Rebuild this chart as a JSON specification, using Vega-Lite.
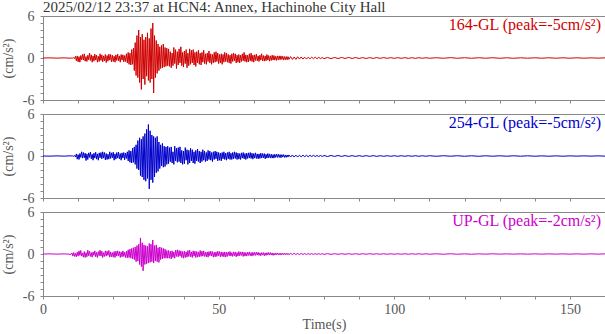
{
  "$schema": "https://vega.github.io/schema/vega-lite/v6.json",
  "padding": {"left": 0, "top": -1, "right": 0, "bottom": 0},
  "background": "white",
  "config": {
    "font": "Liberation Serif",
    "view": {"stroke": "#888", "strokeWidth": 1},
    "axis": {"labelFont": "Liberation Serif", "labelFontSize": 14, "labelColor": "#555", "titleFont": "Liberation Serif", "titleFontSize": 14, "titleFontWeight": "normal", "titleColor": "#555", "domainColor": "#888", "tickColor": "#888", "tickSize": 3, "grid": false, "labelFlush": false},
    "title": {"font": "Liberation Serif", "fontSize": 15, "fontWeight": "normal", "color": "#333"}
  },
  "datasets": {
    "w": [
      {"t":0,"n":0,"e":0,"u":0},
      {"t":2,"n":0.02,"e":-0.02,"u":0.02},
      {"t":4,"n":-0.02,"e":0.02,"u":-0.02},
      {"t":6,"n":0.02,"e":-0.02,"u":0.02},
      {"t":8,"n":-0.03,"e":0.03,"u":-0.05},
      {"t":8.25,"n":0.04,"e":-0.03,"u":0.15},
      {"t":8.5,"n":-0.05,"e":0.04,"u":-0.3},
      {"t":8.75,"n":0.06,"e":-0.05,"u":0.2},
      {"t":9,"n":-0.1,"e":0.08,"u":-0.35},
      {"t":9.25,"n":0.25,"e":-0.15,"u":0.1},
      {"t":9.5,"n":-0.4,"e":0.3,"u":-0.4},
      {"t":9.75,"n":0.3,"e":-0.45,"u":0.25},
      {"t":10,"n":-0.55,"e":0.2,"u":-0.3},
      {"t":10.25,"n":0.2,"e":-0.5,"u":0.45},
      {"t":10.5,"n":-0.6,"e":0.35,"u":-0.2},
      {"t":10.75,"n":0.35,"e":-0.2,"u":0.5},
      {"t":11,"n":-0.25,"e":0.6,"u":-0.3},
      {"t":11.25,"n":0.5,"e":-0.3,"u":0.15},
      {"t":11.5,"n":-0.3,"e":0.5,"u":-0.45},
      {"t":11.75,"n":0.6,"e":-0.25,"u":0.35},
      {"t":12,"n":-0.45,"e":0.4,"u":-0.5},
      {"t":12.25,"n":0.2,"e":-0.65,"u":0.2},
      {"t":12.5,"n":-0.5,"e":0.3,"u":-0.4},
      {"t":12.75,"n":0.4,"e":-0.5,"u":0.55},
      {"t":13,"n":-0.25,"e":0.45,"u":-0.25},
      {"t":13.25,"n":0.7,"e":-0.2,"u":0.4},
      {"t":13.5,"n":-0.35,"e":0.55,"u":-0.35},
      {"t":13.75,"n":0.45,"e":-0.4,"u":0.2},
      {"t":14,"n":-0.6,"e":0.25,"u":-0.45},
      {"t":14.25,"n":0.3,"e":-0.6,"u":0.3},
      {"t":14.5,"n":-0.45,"e":0.4,"u":-0.2},
      {"t":14.75,"n":0.55,"e":-0.3,"u":0.45},
      {"t":15,"n":-0.3,"e":0.55,"u":-0.4},
      {"t":15.25,"n":0.4,"e":-0.45,"u":0.25},
      {"t":15.5,"n":-0.6,"e":0.3,"u":-0.5},
      {"t":15.75,"n":0.25,"e":-0.6,"u":0.35},
      {"t":16,"n":-0.5,"e":0.45,"u":-0.25},
      {"t":16.25,"n":0.6,"e":-0.25,"u":0.55},
      {"t":16.5,"n":-0.35,"e":0.5,"u":-0.3},
      {"t":16.75,"n":0.45,"e":-0.4,"u":0.4},
      {"t":17,"n":-0.55,"e":0.6,"u":-0.5},
      {"t":17.25,"n":0.3,"e":-0.3,"u":0.2},
      {"t":17.5,"n":-0.4,"e":0.5,"u":-0.35},
      {"t":17.75,"n":0.5,"e":-0.55,"u":0.45},
      {"t":18,"n":-0.65,"e":0.35,"u":-0.3},
      {"t":18.25,"n":0.35,"e":-0.5,"u":0.4},
      {"t":18.5,"n":-0.45,"e":0.25,"u":-0.2},
      {"t":18.75,"n":0.55,"e":-0.45,"u":0.5},
      {"t":19,"n":-0.3,"e":0.6,"u":-0.45},
      {"t":19.25,"n":0.5,"e":-0.35,"u":0.3},
      {"t":19.5,"n":-0.55,"e":0.45,"u":-0.4},
      {"t":19.75,"n":0.4,"e":-0.25,"u":0.2},
      {"t":20,"n":-0.5,"e":0.55,"u":-0.45},
      {"t":20.25,"n":0.25,"e":-0.6,"u":0.35},
      {"t":20.5,"n":-0.6,"e":0.3,"u":-0.5},
      {"t":20.75,"n":0.45,"e":-0.45,"u":0.4},
      {"t":21,"n":-0.35,"e":0.5,"u":-0.3},
      {"t":21.25,"n":0.55,"e":-0.3,"u":0.45},
      {"t":21.5,"n":-0.4,"e":0.55,"u":-0.25},
      {"t":21.75,"n":0.3,"e":-0.4,"u":0.35},
      {"t":22,"n":-0.6,"e":0.35,"u":-0.5},
      {"t":22.25,"n":0.5,"e":-0.6,"u":0.3},
      {"t":22.5,"n":-0.3,"e":0.45,"u":-0.4},
      {"t":22.75,"n":0.45,"e":-0.3,"u":0.45},
      {"t":23,"n":-0.55,"e":0.5,"u":-0.35},
      {"t":23.25,"n":0.35,"e":-0.55,"u":0.25},
      {"t":23.5,"n":-0.5,"e":0.4,"u":-0.5},
      {"t":23.75,"n":0.6,"e":-0.35,"u":0.4},
      {"t":24,"n":-0.7,"e":0.6,"u":-0.55},
      {"t":24.25,"n":0.8,"e":-0.7,"u":0.6},
      {"t":24.5,"n":-0.9,"e":0.8,"u":-0.5},
      {"t":24.75,"n":0.7,"e":-0.9,"u":0.7},
      {"t":25,"n":-1.0,"e":0.7,"u":-0.6},
      {"t":25.25,"n":1.2,"e":-1.0,"u":0.8},
      {"t":25.5,"n":-0.9,"e":1.1,"u":-0.7},
      {"t":25.75,"n":1.4,"e":-0.9,"u":0.9},
      {"t":26,"n":-1.8,"e":1.3,"u":-0.8},
      {"t":26.25,"n":2.2,"e":-1.2,"u":1.0},
      {"t":26.5,"n":-2.5,"e":1.6,"u":-1.1},
      {"t":26.75,"n":3.2,"e":-1.8,"u":1.2},
      {"t":27,"n":-2.8,"e":2.2,"u":-1.0},
      {"t":27.25,"n":4.0,"e":-2.0,"u":1.4},
      {"t":27.5,"n":-3.5,"e":2.6,"u":-1.5},
      {"t":27.75,"n":3.0,"e":-2.8,"u":2.3},
      {"t":28,"n":-4.5,"e":2.4,"u":-1.8},
      {"t":28.25,"n":3.4,"e":-3.0,"u":1.6},
      {"t":28.5,"n":-3.0,"e":2.8,"u":-2.4},
      {"t":28.75,"n":2.6,"e":-3.4,"u":1.3},
      {"t":29,"n":-3.8,"e":3.2,"u":-1.5},
      {"t":29.25,"n":3.0,"e":-3.6,"u":1.2},
      {"t":29.5,"n":-2.6,"e":3.8,"u":-1.4},
      {"t":29.75,"n":3.6,"e":-3.2,"u":1.1},
      {"t":30,"n":-3.2,"e":4.5,"u":-1.3},
      {"t":30.25,"n":2.8,"e":-4.7,"u":1.5},
      {"t":30.5,"n":-3.5,"e":3.6,"u":-1.2},
      {"t":30.75,"n":4.2,"e":-3.4,"u":1.4},
      {"t":31,"n":-3.0,"e":3.0,"u":-1.1},
      {"t":31.25,"n":5.0,"e":-3.8,"u":2.0},
      {"t":31.5,"n":-5.0,"e":2.8,"u":-1.3},
      {"t":31.75,"n":3.2,"e":-3.0,"u":1.2},
      {"t":32,"n":-2.8,"e":2.6,"u":-1.0},
      {"t":32.25,"n":2.5,"e":-2.4,"u":1.3},
      {"t":32.5,"n":-2.2,"e":2.8,"u":-1.1},
      {"t":32.75,"n":2.0,"e":-2.2,"u":0.9},
      {"t":33,"n":-1.8,"e":2.0,"u":-1.2},
      {"t":33.25,"n":1.6,"e":-1.8,"u":1.0},
      {"t":33.5,"n":-1.5,"e":1.6,"u":-0.8},
      {"t":33.75,"n":1.8,"e":-1.4,"u":0.9},
      {"t":34,"n":-1.4,"e":1.8,"u":-0.7},
      {"t":34.25,"n":2.0,"e":-1.6,"u":0.8},
      {"t":34.5,"n":-1.3,"e":1.4,"u":-0.6},
      {"t":34.75,"n":1.5,"e":-1.5,"u":0.7},
      {"t":35,"n":-1.2,"e":1.3,"u":-0.6},
      {"t":35.25,"n":1.4,"e":-1.2,"u":0.5},
      {"t":35.5,"n":-1.1,"e":1.4,"u":-0.6},
      {"t":35.75,"n":1.3,"e":-1.1,"u":0.5},
      {"t":36,"n":-1.2,"e":1.2,"u":-0.6},
      {"t":36.25,"n":0.9,"e":-0.8,"u":0.4},
      {"t":36.5,"n":-1.4,"e":1.3,"u":-0.7},
      {"t":36.75,"n":0.7,"e":-1.0,"u":0.45},
      {"t":37,"n":-1.1,"e":0.6,"u":-0.5},
      {"t":37.25,"n":1.5,"e":-1.2,"u":0.3},
      {"t":37.5,"n":-0.8,"e":1.4,"u":-0.6},
      {"t":37.75,"n":1.2,"e":-0.7,"u":0.55},
      {"t":38,"n":-1.5,"e":1.1,"u":-0.35},
      {"t":38.25,"n":0.9,"e":-0.9,"u":0.6},
      {"t":38.5,"n":-1.0,"e":1.2,"u":-0.4},
      {"t":38.75,"n":1.3,"e":-0.8,"u":0.5},
      {"t":39,"n":-0.7,"e":1.3,"u":-0.3},
      {"t":39.25,"n":1.6,"e":-1.0,"u":0.45},
      {"t":39.5,"n":-1.1,"e":0.8,"u":-0.5},
      {"t":39.75,"n":0.8,"e":-1.2,"u":0.35},
      {"t":40,"n":-1.3,"e":0.7,"u":-0.6},
      {"t":40.25,"n":1.0,"e":-1.1,"u":0.4},
      {"t":40.5,"n":-0.8,"e":1.2,"u":-0.5},
      {"t":40.75,"n":1.2,"e":-0.6,"u":0.3},
      {"t":41,"n":-1.4,"e":0.9,"u":-0.45},
      {"t":41.25,"n":0.7,"e":-1.2,"u":0.5},
      {"t":41.5,"n":-1.1,"e":0.8,"u":-0.35},
      {"t":41.75,"n":1.3,"e":-1.0,"u":0.55},
      {"t":42,"n":-0.9,"e":1.1,"u":-0.4},
      {"t":42.25,"n":1.1,"e":-0.7,"u":0.3},
      {"t":42.5,"n":-0.7,"e":0.9,"u":-0.5},
      {"t":42.75,"n":1.2,"e":-1.0,"u":0.45},
      {"t":43,"n":-1.0,"e":0.6,"u":-0.3},
      {"t":43.25,"n":0.8,"e":-1.1,"u":0.4},
      {"t":43.5,"n":-1.2,"e":0.8,"u":-0.5},
      {"t":43.75,"n":0.9,"e":-0.7,"u":0.35},
      {"t":44,"n":-0.7,"e":1.0,"u":-0.45},
      {"t":44.25,"n":1.1,"e":-0.8,"u":0.3},
      {"t":44.5,"n":-0.9,"e":0.7,"u":-0.4},
      {"t":44.75,"n":0.7,"e":-1.0,"u":0.5},
      {"t":45,"n":-1.0,"e":0.6,"u":-0.35},
      {"t":45.25,"n":0.8,"e":-0.8,"u":0.4},
      {"t":45.5,"n":-0.6,"e":0.9,"u":-0.3},
      {"t":45.75,"n":1.1,"e":-0.6,"u":0.45},
      {"t":46,"n":-0.8,"e":0.7,"u":-0.35},
      {"t":46.25,"n":0.6,"e":-0.8,"u":0.25},
      {"t":46.5,"n":-0.9,"e":0.5,"u":-0.4},
      {"t":46.75,"n":0.7,"e":-0.7,"u":0.3},
      {"t":47,"n":-0.5,"e":0.8,"u":-0.45},
      {"t":47.25,"n":1.0,"e":-0.5,"u":0.35},
      {"t":47.5,"n":-0.7,"e":0.7,"u":-0.25},
      {"t":47.75,"n":0.6,"e":-0.6,"u":0.4},
      {"t":48,"n":-0.9,"e":0.5,"u":-0.3},
      {"t":48.25,"n":0.5,"e":-0.8,"u":0.35},
      {"t":48.5,"n":-0.7,"e":0.6,"u":-0.45},
      {"t":48.75,"n":0.8,"e":-0.5,"u":0.25},
      {"t":49,"n":-0.6,"e":0.7,"u":-0.4},
      {"t":49.25,"n":0.9,"e":-0.4,"u":0.3},
      {"t":49.5,"n":-0.5,"e":0.6,"u":-0.35},
      {"t":49.75,"n":0.7,"e":-0.7,"u":0.4},
      {"t":50,"n":-0.8,"e":0.5,"u":-0.25},
      {"t":50.25,"n":0.5,"e":-0.6,"u":0.35},
      {"t":50.5,"n":-0.7,"e":0.4,"u":-0.4},
      {"t":50.75,"n":0.6,"e":-0.7,"u":0.3},
      {"t":51,"n":-0.9,"e":0.5,"u":-0.35},
      {"t":51.25,"n":0.5,"e":-0.4,"u":0.25},
      {"t":51.5,"n":-0.6,"e":0.6,"u":-0.4},
      {"t":51.75,"n":0.8,"e":-0.5,"u":0.3},
      {"t":52,"n":-0.5,"e":0.4,"u":-0.45},
      {"t":52.25,"n":0.7,"e":-0.6,"u":0.25},
      {"t":52.5,"n":-0.6,"e":0.5,"u":-0.35},
      {"t":52.75,"n":0.5,"e":-0.4,"u":0.3},
      {"t":53,"n":-0.7,"e":0.6,"u":-0.25},
      {"t":53.25,"n":0.4,"e":-0.5,"u":0.35},
      {"t":53.5,"n":-0.8,"e":0.4,"u":-0.3},
      {"t":53.75,"n":0.6,"e":-0.5,"u":0.2},
      {"t":54,"n":-0.5,"e":0.5,"u":-0.35},
      {"t":54.25,"n":0.7,"e":-0.4,"u":0.3},
      {"t":54.5,"n":-0.4,"e":0.6,"u":-0.25},
      {"t":54.75,"n":0.6,"e":-0.35,"u":0.3},
      {"t":55,"n":-0.7,"e":0.5,"u":-0.4},
      {"t":55.25,"n":0.4,"e":-0.5,"u":0.2},
      {"t":55.5,"n":-0.6,"e":0.4,"u":-0.3},
      {"t":55.75,"n":0.5,"e":-0.45,"u":0.35},
      {"t":56,"n":-0.7,"e":0.35,"u":-0.25},
      {"t":56.25,"n":0.4,"e":-0.5,"u":0.3},
      {"t":56.5,"n":-0.5,"e":0.45,"u":-0.2},
      {"t":56.75,"n":0.6,"e":-0.3,"u":0.3},
      {"t":57,"n":-0.4,"e":0.5,"u":-0.35},
      {"t":57.25,"n":0.8,"e":-0.4,"u":0.25},
      {"t":57.5,"n":-0.5,"e":0.35,"u":-0.3},
      {"t":57.75,"n":0.45,"e":-0.5,"u":0.2},
      {"t":58,"n":-0.6,"e":0.4,"u":-0.3},
      {"t":58.25,"n":0.4,"e":-0.35,"u":0.25},
      {"t":58.5,"n":-0.55,"e":0.45,"u":-0.2},
      {"t":58.75,"n":0.6,"e":-0.3,"u":0.3},
      {"t":59,"n":-0.4,"e":0.5,"u":-0.25},
      {"t":59.25,"n":0.7,"e":-0.35,"u":0.2},
      {"t":59.5,"n":-0.5,"e":0.4,"u":-0.3},
      {"t":59.75,"n":0.4,"e":-0.45,"u":0.25},
      {"t":60,"n":-0.6,"e":0.35,"u":-0.2},
      {"t":60.25,"n":0.45,"e":-0.3,"u":0.25},
      {"t":60.5,"n":-0.35,"e":0.45,"u":-0.2},
      {"t":60.75,"n":0.55,"e":-0.35,"u":0.25},
      {"t":61,"n":-0.4,"e":0.3,"u":-0.15},
      {"t":61.25,"n":0.3,"e":-0.4,"u":0.25},
      {"t":61.5,"n":-0.5,"e":0.3,"u":-0.2},
      {"t":61.75,"n":0.4,"e":-0.35,"u":0.15},
      {"t":62,"n":-0.3,"e":0.4,"u":-0.25},
      {"t":62.25,"n":0.6,"e":-0.3,"u":0.2},
      {"t":62.5,"n":-0.4,"e":0.35,"u":-0.15},
      {"t":62.75,"n":0.35,"e":-0.25,"u":0.2},
      {"t":63,"n":-0.45,"e":0.35,"u":-0.25},
      {"t":63.25,"n":0.3,"e":-0.4,"u":0.15},
      {"t":63.5,"n":-0.4,"e":0.25,"u":-0.2},
      {"t":63.75,"n":0.5,"e":-0.3,"u":0.2},
      {"t":64,"n":-0.3,"e":0.35,"u":-0.15},
      {"t":64.25,"n":0.35,"e":-0.25,"u":0.2},
      {"t":64.5,"n":-0.45,"e":0.3,"u":-0.15},
      {"t":64.75,"n":0.3,"e":-0.3,"u":0.2},
      {"t":65,"n":-0.35,"e":0.25,"u":-0.15},
      {"t":65.25,"n":0.4,"e":-0.3,"u":0.15},
      {"t":65.5,"n":-0.3,"e":0.2,"u":-0.2},
      {"t":65.75,"n":0.35,"e":-0.3,"u":0.12},
      {"t":66,"n":-0.3,"e":0.25,"u":-0.15},
      {"t":66.25,"n":0.25,"e":-0.2,"u":0.15},
      {"t":66.5,"n":-0.35,"e":0.25,"u":-0.12},
      {"t":66.75,"n":0.3,"e":-0.2,"u":0.15},
      {"t":67,"n":-0.25,"e":0.25,"u":-0.12},
      {"t":67.25,"n":0.3,"e":-0.2,"u":0.1},
      {"t":67.5,"n":-0.25,"e":0.2,"u":-0.15},
      {"t":67.75,"n":0.3,"e":-0.25,"u":0.12},
      {"t":68,"n":-0.2,"e":0.2,"u":-0.1},
      {"t":68.25,"n":0.25,"e":-0.15,"u":0.12},
      {"t":68.5,"n":-0.3,"e":0.2,"u":-0.1},
      {"t":68.75,"n":0.2,"e":-0.2,"u":0.12},
      {"t":69,"n":-0.25,"e":0.15,"u":-0.1},
      {"t":69.25,"n":0.2,"e":-0.2,"u":0.1},
      {"t":69.5,"n":-0.25,"e":0.15,"u":-0.1},
      {"t":69.75,"n":0.2,"e":-0.15,"u":0.1},
      {"t":70,"n":-0.2,"e":0.15,"u":-0.1},
      {"t":70.5,"n":0.2,"e":-0.15,"u":0.1},
      {"t":71,"n":-0.2,"e":0.15,"u":-0.08},
      {"t":71.5,"n":0.15,"e":-0.15,"u":0.1},
      {"t":72,"n":-0.2,"e":0.12,"u":-0.08},
      {"t":72.5,"n":0.18,"e":-0.15,"u":0.08},
      {"t":73,"n":-0.15,"e":0.12,"u":-0.08},
      {"t":73.5,"n":0.15,"e":-0.12,"u":0.08},
      {"t":74,"n":-0.15,"e":0.12,"u":-0.07},
      {"t":74.5,"n":0.12,"e":-0.1,"u":0.07},
      {"t":75,"n":-0.15,"e":0.1,"u":-0.07},
      {"t":75.5,"n":0.12,"e":-0.1,"u":0.06},
      {"t":76,"n":-0.12,"e":0.1,"u":-0.06},
      {"t":76.5,"n":0.12,"e":-0.08,"u":0.06},
      {"t":77,"n":-0.1,"e":0.1,"u":-0.06},
      {"t":77.5,"n":0.12,"e":-0.08,"u":0.05},
      {"t":78,"n":-0.1,"e":0.08,"u":-0.05},
      {"t":78.5,"n":0.1,"e":-0.08,"u":0.05},
      {"t":79,"n":-0.1,"e":0.08,"u":-0.05},
      {"t":79.5,"n":0.08,"e":-0.07,"u":0.05},
      {"t":80,"n":-0.1,"e":0.07,"u":-0.05},
      {"t":81,"n":0.08,"e":-0.07,"u":0.05},
      {"t":82,"n":-0.09,"e":0.07,"u":-0.05},
      {"t":83,"n":0.08,"e":-0.06,"u":0.04},
      {"t":84,"n":-0.08,"e":0.07,"u":-0.04},
      {"t":85,"n":0.08,"e":-0.06,"u":0.04},
      {"t":86,"n":-0.07,"e":0.06,"u":-0.04},
      {"t":87,"n":0.08,"e":-0.06,"u":0.04},
      {"t":88,"n":-0.07,"e":0.05,"u":-0.04},
      {"t":89,"n":0.07,"e":-0.06,"u":0.04},
      {"t":90,"n":-0.07,"e":0.05,"u":-0.04},
      {"t":91,"n":0.06,"e":-0.05,"u":0.04},
      {"t":92,"n":-0.07,"e":0.05,"u":-0.03},
      {"t":93,"n":0.06,"e":-0.05,"u":0.04},
      {"t":94,"n":-0.06,"e":0.05,"u":-0.03},
      {"t":95,"n":0.06,"e":-0.05,"u":0.03},
      {"t":96,"n":-0.05,"e":0.04,"u":-0.03},
      {"t":97,"n":0.06,"e":-0.04,"u":0.03},
      {"t":98,"n":-0.05,"e":0.04,"u":-0.03},
      {"t":99,"n":0.05,"e":-0.04,"u":0.03},
      {"t":100,"n":-0.05,"e":0.04,"u":-0.03},
      {"t":101,"n":0.05,"e":-0.04,"u":0.03},
      {"t":102,"n":-0.05,"e":0.04,"u":-0.03},
      {"t":103,"n":0.05,"e":-0.04,"u":0.03},
      {"t":104,"n":-0.05,"e":0.04,"u":-0.03},
      {"t":105,"n":0.04,"e":-0.04,"u":0.03},
      {"t":106,"n":-0.05,"e":0.04,"u":-0.03},
      {"t":107,"n":0.04,"e":-0.04,"u":0.03},
      {"t":108,"n":-0.04,"e":0.04,"u":-0.03},
      {"t":109,"n":0.04,"e":-0.04,"u":0.03},
      {"t":110,"n":-0.04,"e":0.04,"u":-0.03},
      {"t":112,"n":0.04,"e":-0.04,"u":0.03},
      {"t":114,"n":-0.04,"e":0.04,"u":-0.03},
      {"t":116,"n":0.05,"e":-0.03,"u":0.03},
      {"t":118,"n":-0.04,"e":0.04,"u":-0.03},
      {"t":120,"n":0.04,"e":-0.04,"u":0.02},
      {"t":122,"n":-0.04,"e":0.03,"u":-0.03},
      {"t":124,"n":0.04,"e":-0.04,"u":0.02},
      {"t":126,"n":-0.03,"e":0.03,"u":-0.02},
      {"t":128,"n":0.04,"e":-0.03,"u":0.03},
      {"t":130,"n":-0.04,"e":0.03,"u":-0.02},
      {"t":132,"n":0.03,"e":-0.03,"u":0.02},
      {"t":134,"n":-0.04,"e":0.03,"u":-0.02},
      {"t":136,"n":0.03,"e":-0.03,"u":0.02},
      {"t":138,"n":-0.03,"e":0.03,"u":-0.02},
      {"t":140,"n":0.03,"e":-0.03,"u":0.02},
      {"t":142,"n":-0.03,"e":0.02,"u":-0.02},
      {"t":144,"n":0.03,"e":-0.03,"u":0.02},
      {"t":146,"n":-0.03,"e":0.02,"u":-0.02},
      {"t":148,"n":0.03,"e":-0.03,"u":0.02},
      {"t":150,"n":-0.03,"e":0.02,"u":-0.02},
      {"t":152,"n":0.03,"e":-0.02,"u":0.02},
      {"t":154,"n":-0.03,"e":0.02,"u":-0.02},
      {"t":156,"n":0.02,"e":-0.02,"u":0.02},
      {"t":158,"n":-0.02,"e":0.02,"u":-0.02},
      {"t":160,"n":0.02,"e":-0.02,"u":0.02}
    ],
    "labels": [
      {"c": "n", "label": "164-GL (peak=-5cm/s²)"},
      {"c": "e", "label": "254-GL (peak=-5cm/s²)"},
      {"c": "u", "label": "UP-GL (peak=-2cm/s²)"}
    ]
  },
  "spacing": 14,
  "bounds": "flush",
  "vconcat": [
    {
      "width": 562, "height": 84,
      "title": {"text": "2025/02/12 23:37 at HCN4: Annex, Hachinohe City Hall", "anchor": "start", "frame": "group", "offset": -6},
      "resolve": {"axis": {"x": "independent", "y": "independent"}},
      "layer": [
        {
          "data": {"name": "w"},
          "mark": {"type": "line", "color": "#d00000", "strokeWidth": 1, "clip": true},
          "encoding": {
            "x": {"field": "t", "type": "quantitative", "scale": {"domain": [0, 160], "nice": false}, "axis": {"orient": "bottom", "values": [0,10,20,30,40,50,60,70,80,90,100,110,120,130,140,150,160], "labels": false, "title": null}},
            "y": {"field": "n", "type": "quantitative", "scale": {"domain": [-6, 6], "nice": false}, "axis": {"orient": "left", "values": [-6,-5,-4,-3,-2,-1,0,1,2,3,4,5,6], "labels": false, "title": null}}
          }
        },
        {
          "data": {"name": "labels"},
          "transform": [{"filter": "datum.c == 'n'"}],
          "mark": {"type": "text", "align": "right", "baseline": "top", "dx": -4, "dy": 1, "font": "Liberation Serif", "fontSize": 16, "color": "#d00000"},
          "encoding": {
            "x": {"datum": 160, "type": "quantitative", "axis": null},
            "y": {"datum": 6, "type": "quantitative", "axis": {"orient": "left", "values": [-6, 0, 6], "ticks": false, "domain": false, "tickSize": 0, "labelPadding": 9, "labelExpr": "datum.value == -6 ? '-6' : datum.label", "title": "(cm/s²)", "titlePadding": 7}},
            "text": {"field": "label"}
          }
        }
      ]
    },
    {
      "width": 562, "height": 84,
      "resolve": {"axis": {"x": "independent", "y": "independent"}},
      "layer": [
        {
          "data": {"name": "w"},
          "mark": {"type": "line", "color": "#0000cc", "strokeWidth": 1, "clip": true},
          "encoding": {
            "x": {"field": "t", "type": "quantitative", "scale": {"domain": [0, 160], "nice": false}, "axis": {"orient": "bottom", "values": [0,10,20,30,40,50,60,70,80,90,100,110,120,130,140,150,160], "labels": false, "title": null}},
            "y": {"field": "e", "type": "quantitative", "scale": {"domain": [-6, 6], "nice": false}, "axis": {"orient": "left", "values": [-6,-5,-4,-3,-2,-1,0,1,2,3,4,5,6], "labels": false, "title": null}}
          }
        },
        {
          "data": {"name": "labels"},
          "transform": [{"filter": "datum.c == 'e'"}],
          "mark": {"type": "text", "align": "right", "baseline": "top", "dx": -4, "dy": 1, "font": "Liberation Serif", "fontSize": 16, "color": "#0000cc"},
          "encoding": {
            "x": {"datum": 160, "type": "quantitative", "axis": null},
            "y": {"datum": 6, "type": "quantitative", "axis": {"orient": "left", "values": [-6, 0, 6], "ticks": false, "domain": false, "tickSize": 0, "labelPadding": 9, "labelExpr": "datum.value == -6 ? '-6' : datum.label", "title": "(cm/s²)", "titlePadding": 7}},
            "text": {"field": "label"}
          }
        }
      ]
    },
    {
      "width": 562, "height": 84,
      "resolve": {"axis": {"x": "independent", "y": "independent"}},
      "layer": [
        {
          "data": {"name": "w"},
          "mark": {"type": "line", "color": "#cc00cc", "strokeWidth": 1, "clip": true},
          "encoding": {
            "x": {"field": "t", "type": "quantitative", "scale": {"domain": [0, 160], "nice": false}, "axis": {"orient": "bottom", "values": [0,10,20,30,40,50,60,70,80,90,100,110,120,130,140,150,160], "labels": false, "title": null}},
            "y": {"field": "u", "type": "quantitative", "scale": {"domain": [-6, 6], "nice": false}, "axis": {"orient": "left", "values": [-6,-5,-4,-3,-2,-1,0,1,2,3,4,5,6], "labels": false, "title": null}}
          }
        },
        {
          "data": {"name": "labels"},
          "transform": [{"filter": "datum.c == 'u'"}],
          "mark": {"type": "text", "align": "right", "baseline": "top", "dx": -4, "dy": 1, "font": "Liberation Serif", "fontSize": 16, "color": "#cc00cc"},
          "encoding": {
            "x": {"datum": 160, "type": "quantitative", "axis": {"orient": "bottom", "values": [0, 50, 100, 150], "ticks": false, "domain": false, "tickSize": 0, "labelPadding": 6, "title": "Time(s)", "titlePadding": 1}},
            "y": {"datum": 6, "type": "quantitative", "axis": {"orient": "left", "values": [-6, 0, 6], "ticks": false, "domain": false, "tickSize": 0, "labelPadding": 9, "labelExpr": "datum.value == -6 ? '-6' : datum.label", "title": "(cm/s²)", "titlePadding": 7}},
            "text": {"field": "label"}
          }
        }
      ]
    }
  ]
}
